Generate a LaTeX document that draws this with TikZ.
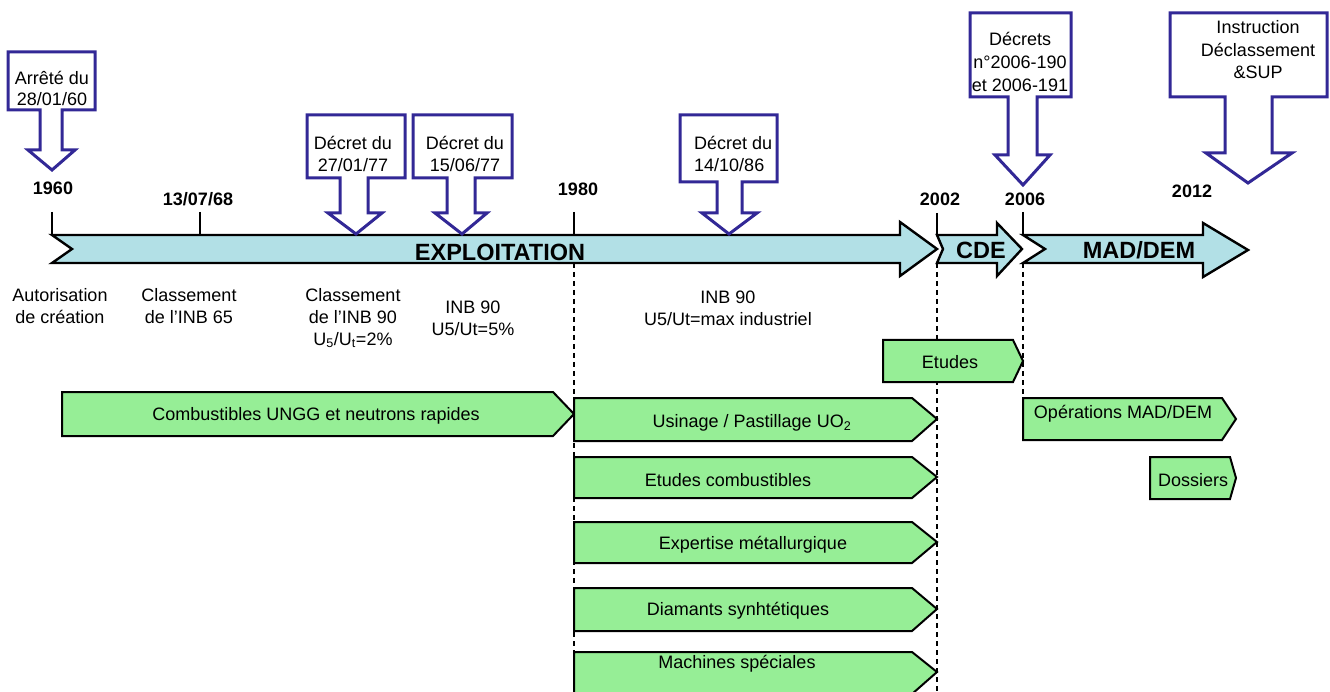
\documentclass[tikz,border=0pt]{standalone}
\usepackage{fontspec}
\setmainfont{Liberation Sans}
\definecolor{phase}{RGB}{178,224,230}
\definecolor{task}{RGB}{150,238,150}
\definecolor{decree}{RGB}{50,40,150}
\begin{document}
\begin{tikzpicture}[x=1pt,y=-1pt,
  txt/.style={font=\fontsize{18}{22}\selectfont,align=center,inner sep=0pt},
  yearlbl/.style={font=\fontsize{18}{22}\selectfont\bfseries,inner sep=0pt},
  phaselbl/.style={font=\fontsize{23.5}{26}\selectfont\bfseries,inner sep=0pt},
  phasebox/.style={draw=black,fill=phase,line width=2.4pt,line join=miter},
  taskbox/.style={draw=black,fill=task,line width=2pt,line join=miter},
  callout/.style={draw=decree,fill=white,line width=3pt,line join=miter},
  tick/.style={line width=2pt},
  guide/.style={line width=1.2pt,dash pattern=on 5pt off 4pt}]
\useasboundingbox (0,0) rectangle (1330,692);

% year marks on the axis
\coordinate (t60) at (52,212);   \coordinate (b60) at (52,235);
\coordinate (t68) at (200,212);  \coordinate (b68) at (200,235);
\coordinate (t80) at (574,212);  \coordinate (b80) at (574,235);
\coordinate (t02) at (937,213);  \coordinate (b02) at (937,235);
\coordinate (t06) at (1023,212); \coordinate (b06) at (1023,235);
\coordinate (d80) at (574,263);  \coordinate (e80) at (574,694);
\coordinate (d02) at (937,263);  \coordinate (e02) at (937,694);
\coordinate (d06) at (1023,263); \coordinate (e06) at (1023,398);

\draw[guide] (d80) -- (e80);
\draw[guide] (d02) -- (e02);
\draw[guide] (d06) -- (e06);

% phase arrows
\draw[phasebox] (52,235) -- (900,235) -- (900,222) -- (937,249) -- (900,276) -- (900,263) -- (52,263) -- (72,249) -- cycle;
\draw[phasebox] (937,235) -- (997,235) -- (997,223) -- (1022,249) -- (997,276) -- (997,263) -- (937,263) -- (943,249) -- cycle;
\draw[phasebox] (1023,235) -- (1203,235) -- (1203,223) -- (1248,250) -- (1203,277) -- (1203,263) -- (1023,263) -- (1045,249) -- cycle;
\node[phaselbl] (expl) at (500,252) {EXPLOITATION};
\node[phaselbl] (cde) at (981,250) {CDE};
\node[phaselbl] (mad) at (1139,250) {MAD/DEM};

\draw[tick] (t60) -- (b60);
\draw[tick] (t68) -- (b68);
\draw[tick] (t80) -- (b80);
\draw[tick] (t02) -- (b02);
\draw[tick] (t06) -- (b06);

\node[yearlbl] (y60) at (53,188) {1960};
\node[yearlbl] (y68) at (198,199) {13/07/68};
\node[yearlbl] (y80) at (578,189) {1980};
\node[yearlbl] (y02) at (940,199) {2002};
\node[yearlbl] (y06) at (1025,199) {2006};
\node[yearlbl] (y12) at (1192,191) {2012};

% regulatory texts
\draw[callout] (8,52) -- (95,52) -- (95,110) -- (62,110) -- (62,150) -- (75,150) -- (52,170) -- (28,150) -- (40,150) -- (40,110) -- (8,110) -- cycle;
\node[txt,font=\fontsize{18}{21}\selectfont] (a60) at (52,88) {Arrêté du\\28/01/60};

\draw[callout] (307,115) -- (405,115) -- (405,178) -- (368,178) -- (368,213) -- (382,213) -- (356,234) -- (328,213) -- (340,213) -- (340,178) -- (307,178) -- cycle;
\node[txt] (d77a) at (353,154) {Décret du\\27/01/77};

\draw[callout] (413,115) -- (512,115) -- (512,178) -- (475,178) -- (475,213) -- (487,213) -- (462,234) -- (435,213) -- (447,213) -- (447,178) -- (413,178) -- cycle;
\node[txt] (d77b) at (465,154) {Décret du\\15/06/77};

\draw[callout] (680,115) -- (777,115) -- (777,182) -- (742,182) -- (742,213) -- (757,213) -- (729,234) -- (702,213) -- (717,213) -- (717,182) -- (680,182) -- cycle;
\node[txt,align=left,anchor=west] (d86) at (694,154) {Décret du\\14/10/86};

\draw[callout] (970,13) -- (1071,13) -- (1071,97) -- (1037,97) -- (1037,155) -- (1050,155) -- (1023,185) -- (995,155) -- (1008,155) -- (1008,97) -- (970,97) -- cycle;
\node[txt,font=\fontsize{18}{23}\selectfont] (d2006) at (1020,62) {Décrets\\n°2006-190\\et 2006-191};

\draw[callout] (1170,13) -- (1327,13) -- (1327,97) -- (1272,97) -- (1272,153) -- (1292,153) -- (1248,183) -- (1206,153) -- (1225,153) -- (1225,97) -- (1170,97) -- cycle;
\node[txt,font=\fontsize{18}{22.5}\selectfont] (instr) at (1258,50) {Instruction\\Déclassement\\\&SUP};

% notes under the axis
\node[txt] (n60) at (60,306) {Autorisation\\de création};
\node[txt] (n68) at (189,306) {Classement\\de l’INB 65};
\node[txt] (n77a) at (353,318) {Classement\\de l’INB 90\\U\textsubscript{5}/U\textsubscript{t}=2\%};
\node[txt] (n77b) at (473,318) {INB 90\\U5/Ut=5\%};
\node[txt] (n86) at (728,308) {INB 90\\U5/Ut=max industriel};

% activities
\draw[taskbox] (883,340) -- (1013,340) -- (1023,361) -- (1013,382) -- (883,382) -- cycle;
\node[txt] (etu) at (950,362) {Etudes};

\draw[taskbox] (62,392) -- (553,392) -- (574,414) -- (553,436) -- (62,436) -- cycle;
\node[txt] (ungg) at (316,416) {Combustibles UNGG et neutrons rapides};

\draw[taskbox] (574,398) -- (912,398) -- (937,419) -- (912,441) -- (574,441) -- cycle;
\node[txt] (uo2) at (752,423) {Usinage / Pastillage UO\textsubscript{2}};

\draw[taskbox] (574,457) -- (912,457) -- (937,477) -- (912,498) -- (574,498) -- cycle;
\node[txt] (ecomb) at (728,480) {Etudes combustibles};

\draw[taskbox] (574,522) -- (912,522) -- (937,542) -- (912,563) -- (574,563) -- cycle;
\node[txt] (expm) at (753,545) {Expertise métallurgique};

\draw[taskbox] (574,588) -- (912,588) -- (937,609) -- (912,631) -- (574,631) -- cycle;
\node[txt] (diam) at (738,611) {Diamants synhtétiques};

\draw[taskbox] (574,652) -- (912,652) -- (937,672) -- (912,694) -- (574,694) -- cycle;
\node[txt] (mach) at (737,664) {Machines spéciales};

\draw[taskbox] (1023,398) -- (1222,398) -- (1236,419) -- (1222,440) -- (1023,440) -- cycle;
\node[txt] (ops) at (1123,414) {Opérations MAD/DEM};

\draw[taskbox] (1150,457) -- (1230,457) -- (1236,478) -- (1230,499) -- (1150,499) -- cycle;
\node[txt] (doss) at (1193,480) {Dossiers};
\end{tikzpicture}
\end{document}
